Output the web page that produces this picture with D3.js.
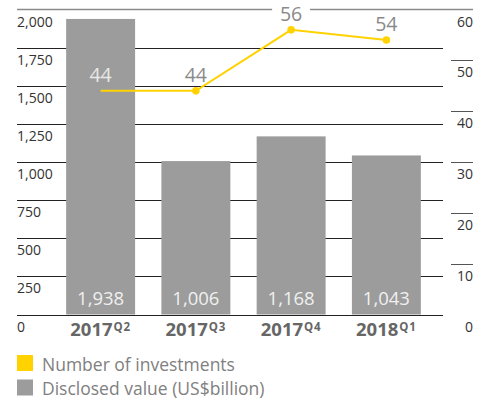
<!DOCTYPE html>
<html><head><meta charset="utf-8">
<script src="https://cdn.jsdelivr.net/npm/d3@7"></script>
<style>body{margin:0;background:#fff}svg{display:block;font-family:"Open Sans",sans-serif}</style>
</head><body><svg id="c" width="489" height="400"></svg>
<script>
const categories = ["2017", "2017", "2017", "2018"];
const quarters = ["Q2", "Q3", "Q4", "Q1"];
const disclosedValue = [1938, 1006, 1168, 1043];
const investments = [44, 44, 56, 54];
const leftTicks = [0, 250, 500, 750, 1000, 1250, 1500, 1750, 2000];
const rightTicks = [0, 10, 20, 30, 40, 50, 60];
const legendLabels = ["Number of investments", "Disclosed value (US$billion)"];

const svg = d3.select("#c");
const yL = d3.scaleLinear().domain([0, 2000]).range([314.5, 9.5]);
const yR = d3.scaleLinear().domain([0, 60]).range([314.5, 9.5]);
const x = d3.scaleBand().domain(d3.range(categories.length)).range([53, 434]).paddingInner(0.276).paddingOuter(0.138);
const fmt = d3.format(",");
const yellow = "#ffd200", grey = "#9b9c9b";

// gridlines
svg.append("g").selectAll("line").data(leftTicks.filter(d => d < 2000)).join("line")
  .attr("x1", 17).attr("x2", 443).attr("y1", d => Math.round(yL(d)) + 0.5).attr("y2", d => Math.round(yL(d)) + 0.5)
  .attr("stroke", "#222").attr("stroke-width", 1);
svg.append("line").attr("x1", 17).attr("x2", 473).attr("y1", yL(2000)).attr("y2", yL(2000))
  .attr("stroke", "#8a8a8a").attr("stroke-width", 1.5);
svg.append("g").selectAll("line").data(rightTicks.filter(d => d > 0 && d < 60)).join("line")
  .attr("x1", 451).attr("x2", 473).attr("y1", d => Math.round(yR(d)) + 0.5).attr("y2", d => Math.round(yR(d)) + 0.5)
  .attr("stroke", "#555").attr("stroke-width", 1);

// axis labels
svg.append("g").selectAll("text").data(leftTicks).join("text")
  .attr("x", 17).attr("y", d => yL(d) + 17).attr("font-size", 14).attr("fill", "#333").text(d => fmt(d));
svg.append("g").selectAll("text").data(rightTicks).join("text")
  .attr("x", 473).attr("y", d => yR(d) + 17).attr("text-anchor", "end").attr("font-size", 14).attr("fill", "#333").text(d => d);

// bars
svg.append("g").selectAll("rect").data(disclosedValue).join("rect")
  .attr("x", (d, i) => x(i)).attr("width", x.bandwidth())
  .attr("y", d => yL(d)).attr("height", d => yL(0) - yL(d)).attr("fill", grey);
svg.append("g").selectAll("text").data(disclosedValue).join("text")
  .attr("x", (d, i) => x(i) + x.bandwidth() / 2).attr("y", 305).attr("text-anchor", "middle")
  .attr("font-size", 18.5).attr("fill", "#f0f0f0").text(d => fmt(d));

// category labels
const cat = svg.append("g").selectAll("text").data(categories).join("text")
  .attr("x", (d, i) => x(i) + x.bandwidth() / 2).attr("y", 336).attr("text-anchor", "middle")
  .attr("font-weight", "bold").attr("fill", "#666");
cat.append("tspan").attr("font-size", 18.5).text(d => d);
cat.append("tspan").attr("font-size", 11.5).attr("dy", -5.5).attr("dx", 1).attr("letter-spacing", 0.8).text((d, i) => quarters[i]);

// line
const cx = i => x(i) + x.bandwidth() / 2;
svg.append("path").datum(investments)
  .attr("d", d3.line().x((d, i) => cx(i)).y(d => yR(d)))
  .attr("fill", "none").attr("stroke", yellow).attr("stroke-width", 2);
svg.append("g").selectAll("circle").data(investments).join("circle")
  .filter((d, i) => i > 0)
  .attr("cx", (d, i) => cx(i + 1)).attr("cy", d => yR(d)).attr("r", 3.8).attr("fill", yellow);

// line labels
investments.forEach((v, i) => {
  const onBar = yR(v) - 9 > yL(disclosedValue[i]);
  if (!onBar && yR(v) - 24 < yL(2000)) {
    svg.append("rect").attr("x", cx(i) - 19).attr("y", yL(2000) - 2).attr("width", 38).attr("height", 5).attr("fill", "#fff");
  }
  svg.append("text").attr("x", cx(i)).attr("y", yR(v) - 9).attr("text-anchor", "middle")
    .attr("font-size", 19.5).attr("fill", onBar ? "#e8e8e8" : "#8a8a8a").text(v);
});

// legend
const leg = svg.append("g").selectAll("g").data(legendLabels).join("g")
  .attr("transform", (d, i) => `translate(17,${355 + i * 24.5})`);
leg.append("rect").attr("width", 16).attr("height", 16).attr("fill", (d, i) => i === 0 ? yellow : grey);
leg.append("text").attr("x", 25).attr("y", 15.5).attr("font-size", 17.5).attr("fill", "#808080").text(d => d);
</script></body></html>
